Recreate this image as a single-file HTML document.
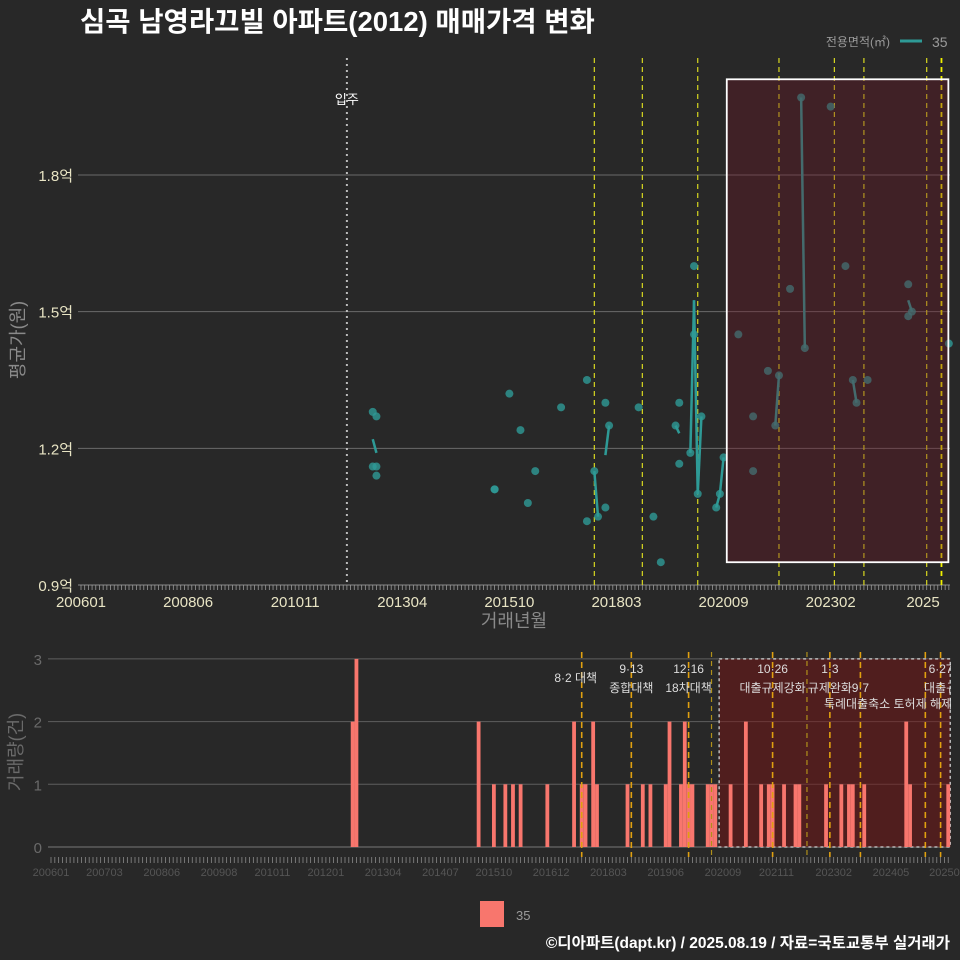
<!DOCTYPE html>
<html><head><meta charset="utf-8">
<style>
html,body{margin:0;padding:0;background:#282828;}
svg{display:block;font-family:"Liberation Sans","Noto Sans CJK KR",sans-serif;}
</style></head>
<body>
<svg id="chart" width="960" height="960" viewBox="0 0 960 960">
<rect x="0" y="0" width="960" height="960" fill="#282828"/>
<text x="80" y="31" fill="#ffffff" font-size="27.5" font-weight="bold">심곡 남영라끄빌 아파트(2012) 매매가격 변화</text>
<text x="890" y="46" fill="#9a9a9a" font-size="12" text-anchor="end">전용면적(㎡)</text>
<line x1="900" y1="41" x2="922" y2="41" stroke="#2e9a96" stroke-width="3"/>
<text x="932" y="47" fill="#9a9a9a" font-size="14">35</text>
<g id="topPanel"></g>
<g id="bottomPanel"></g>
<rect x="480" y="901" width="24" height="26" fill="#f8766d"/>
<text x="516" y="920" fill="#9a9a9a" font-size="13">35</text>
<text x="950" y="948" fill="#ffffff" font-size="15.5" font-weight="bold" text-anchor="end">©디아파트(dapt.kr) / 2025.08.19 / 자료=국토교통부 실거래가</text>
</svg>
<script>
// month index: 0 = 2006-01
const tradeMonths = [79,79,80,80,80,112,112,116,119,121,123,130,137,137,139,140,142,142,143,151,155,157,161,162,162,165,166,166,167,168,172,173,174,178,182,182,186,188,189,192,195,196,203,207,209,210,213,224,224,225,235];
const tradePrices = [1.28,1.16,1.27,1.16,1.14,1.11,1.11,1.32,1.24,1.08,1.15,1.29,1.35,1.04,1.15,1.05,1.30,1.07,1.25,1.29,1.05,0.95,1.25,1.30,1.166,1.19,1.60,1.45,1.10,1.27,1.07,1.10,1.18,1.45,1.15,1.27,1.37,1.25,1.36,1.55,1.97,1.42,1.95,1.60,1.35,1.30,1.35,1.56,1.49,1.50,1.43];
const yTicks = [0.9,1.2,1.5,1.8];
const yTickLabels = ["0.9억","1.2억","1.5억","1.8억"];
const topXTicks = [0,29,58,87,116,145,174,203,228];
const topXLabels = ["200601","200806","201011","201304","201510","201803","202009","202302","2025"];
const botXTicks = [0,14,29,44,58,72,87,102,116,131,146,161,176,190,205,220,234];
const botXLabels = ["200601","200703","200806","200908","201011","201201","201304","201407","201510","201612","201803","201906","202009","202111","202302","202405","20250"];
const countTicks = [0,1,2,3];
const policyMonths = [139,152,167,189,204,212,229,233];
const extraPolicyMonths = [173,198];
const policyTop = ["8·2 대책","9·13","12·16","10·26","1·3","","","6·27"];
const policyBottom = ["","종합대책","18차대책","대출규제강화","규제완화","9·7","","대출규"];
const moveInMonth = 72;
const regionStart = 175, regionEnd = 235, regionLow = 0.95, regionHigh = 2.01;

const NS = "http://www.w3.org/2000/svg";
function mk(tag, attrs, parent){const e=document.createElementNS(NS,tag);for(const k in attrs)e.setAttribute(k,attrs[k]);parent.appendChild(e);return e;}
const topG = document.getElementById('topPanel'), botG = document.getElementById('bottomPanel');
const tx = m => 81 + m*3.693;
const ty = v => 585 - (v-0.9)*455.6;
const bx = m => 51 + m*3.818;
const by = c => 847 - c*62.7;

yTicks.forEach((v,i)=>{
  if(i>0){const g=mk('line',{x1:78,x2:950,y1:ty(v),y2:ty(v),stroke:'#6a6a6a','stroke-width':1},topG);
  
  }
  const t=mk('text',{x:73,y:ty(v)+6,fill:'#e8e4c4','font-size':15,'text-anchor':'end'},topG);t.textContent=yTickLabels[i];
  
  
});
const ax=mk('line',{x1:78,x2:950,y1:585,y2:585,stroke:'#8a8a8a','stroke-width':1},topG);


for(let m=0;m<=235;m++){const k=mk('line',{x1:tx(m),x2:tx(m),y1:585,y2:590,stroke:'#9a9a9a','stroke-width':0.8},topG);
  
  }
topXTicks.forEach((m,i)=>{const t=mk('text',{x:tx(m),y:607,fill:'#e8e4c4','font-size':15,'text-anchor':'middle'},topG);t.textContent=topXLabels[i];
  
  });
let t1=mk('text',{x:514,y:627,fill:'#8a8a8a','font-size':18,'text-anchor':'middle'},topG);t1.textContent='거래년월';


let t2=mk('text',{x:24,y:340,fill:'#8a8a8a','font-size':18,'text-anchor':'middle',transform:'rotate(-90 24 340)'},topG);t2.textContent='평균가(원)';



const mi=mk('line',{x1:tx(moveInMonth),x2:tx(moveInMonth),y1:58,y2:585,stroke:'#bbbbbb','stroke-width':2,'stroke-dasharray':'2 4'},topG);


const mt=mk('text',{x:tx(moveInMonth),y:104,fill:'#ffffff','font-size':13,'text-anchor':'middle'},topG);mt.textContent='입주';



policyMonths.forEach((m,i)=>{const l=mk('line',{x1:tx(m),x2:tx(m),y1:58,y2:585,stroke:i===7?'#f0f000':'#d8d820','stroke-width':i===7?1.8:1.2,'stroke-dasharray':'5 4'},topG);
  
  });

const byMonth={};
tradeMonths.forEach((m,i)=>{(byMonth[m]=byMonth[m]||[]).push(tradePrices[i]);});
const months=Object.keys(byMonth).map(Number).sort((a,b)=>a-b);
const mean=m=>byMonth[m].reduce((a,b)=>a+b,0)/byMonth[m].length;
for(let i=1;i<months.length;i++){
  if(months[i]-months[i-1]===1){
    const s=mk('line',{x1:tx(months[i-1]),y1:ty(mean(months[i-1])),x2:tx(months[i]),y2:ty(mean(months[i])),stroke:'#2e9a96','stroke-width':2.5},topG);
    
    
  }
}
tradeMonths.forEach((m,i)=>{const c=mk('circle',{cx:tx(m),cy:ty(tradePrices[i]),r:4,fill:'#2e9a96','fill-opacity':0.8},topG);
  
  });

const rr=mk('rect',{x:tx(regionStart)-0.5,y:ty(regionHigh),width:tx(regionEnd)-tx(regionStart),height:ty(regionLow)-ty(regionHigh),fill:'rgba(110,20,35,0.35)',stroke:'#ffffff','stroke-width':1.8},topG);



countTicks.forEach(c=>{
  const g=mk('line',{x1:48,x2:950,y1:by(c),y2:by(c),stroke:c===0?'#777':'#5e5e5e','stroke-width':1},botG);
  
  
  const t=mk('text',{x:42,y:by(c)+6,fill:'#6a6a6a','font-size':15,'text-anchor':'end'},botG);t.textContent=String(c);
  
  
});
let t3=mk('text',{x:22,y:752,fill:'#6a6a6a','font-size':18,'text-anchor':'middle',transform:'rotate(-90 22 752)'},botG);t3.textContent='거래량(건)';


for(let m=0;m<=235;m++){const k=mk('line',{x1:bx(m),x2:bx(m),y1:857,y2:863,stroke:'#8a8a8a','stroke-width':0.8},botG);
  
  }
botXTicks.forEach((m,i)=>{const t=mk('text',{x:bx(m),y:876,fill:'#555555','font-size':11,'text-anchor':'middle'},botG);t.textContent=botXLabels[i];
  
  });
const rb=mk('rect',{x:bx(regionStart),y:by(3),width:bx(regionEnd)+2-bx(regionStart),height:by(0)-by(3),fill:'rgba(120,20,20,0.5)',stroke:'#bbbbbb','stroke-width':1.5,'stroke-dasharray':'3 3'},botG);


months.forEach(m=>{const n=byMonth[m].length;const b=mk('rect',{x:bx(m)-1.9,y:by(n),width:3.8,height:by(0)-by(n),fill:'#f8766d'},botG);
  
  });
extraPolicyMonths.forEach(m=>{const l=mk('line',{x1:bx(m),x2:bx(m),y1:652,y2:857,stroke:'#b0901a','stroke-width':1.2,'stroke-dasharray':'5 4'},botG);
  
  });
policyMonths.forEach((m,i)=>{
  const l=mk('line',{x1:bx(m),x2:bx(m),y1:652,y2:857,stroke:'#e0a010','stroke-width':1.6,'stroke-dasharray':'6 4'},botG);
  
  
  if(policyTop[i]){const t=mk('text',{x:i===0?bx(m)-6:bx(m),y:i===0?682:673,fill:'#dddddd','font-size':12,'text-anchor':'middle'},botG);t.textContent=policyTop[i];
    
    }
  if(policyBottom[i]){const t=mk('text',{x:bx(m),y:692,fill:'#dddddd','font-size':12,'text-anchor':'middle'},botG);t.textContent=policyBottom[i];
    
    }
});
const ex=mk('text',{x:888,y:708,fill:'#dddddd','font-size':12,'text-anchor':'middle'},botG);ex.textContent='특례대출축소 토허제 해제';


const cover=mk('rect',{x:951,y:640,width:9,height:80,fill:'#282828'},botG);


</script>
</body></html>
